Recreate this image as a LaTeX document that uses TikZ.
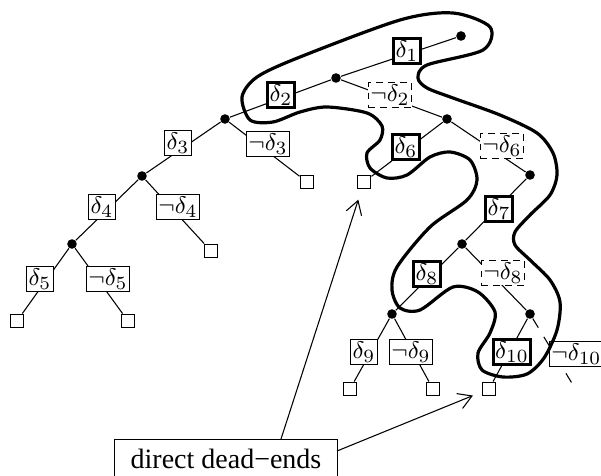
\documentclass[tikz,border=0pt]{standalone}
\usepackage[no-math]{fontspec}
\newfontfamily\timesfont{Liberation Serif}
\usetikzlibrary{arrows.meta}

\begin{document}
\begin{tikzpicture}[x=0.375pt,y=-0.375pt,
        dot/.style={circle,fill=black,inner sep=0pt,minimum size=3.6pt},
        deadend/.style={draw,inner sep=0pt,minimum size=5.2pt},
        cond/.style={draw,fill=white,inner sep=0.7pt,font=\fontsize{9.5}{11}\selectfont},
        chosen/.style={cond,line width=1.1pt},
        pending/.style={cond,dash pattern=on 2.5pt off 2pt},
        >={Straight Barb[length=5pt,width=6pt]}]
        \useasboundingbox (0,0) rectangle (601,476);

        % choice points of the search
        \foreach \n/\x/\y in {n1/461/36,n2/336/78,n3/225/119,n4/447/119,n5/142/176,%
                              n7/530/175,n8/72/244,n9/462/244,n10/392/314,n11/530/314} {
          \node[dot] (\n) at (\x,\y) {};
        };

        % leaves where the search gets stuck
        \foreach \n/\x/\y in {da/307/182,db/364/182,dc/211/251,dd/17/321,de/128/321,%
                              df/350/389,dg/433/389,dh/489/389} {
          \node[deadend] (\n) at (\x,\y) {};
        };
        \coordinate (end10) at (573,385);

        % the branches
        \foreach \a/\b in {n1/n2,n2/n3,n2/n4,n3/n5,n3/da,n4/db,n4/n7,n5/n8,n5/dc,%
                           n8/dd,n8/de,n7/n9,n9/n10,n9/n11,n10/df,n10/dg,n11/dh} {
          \draw (\a) -- (\b);
        };
        \draw[dash pattern=on 4pt off 4pt] (n11) -- (end10);

        % conditions on the branches
        \node[chosen]  (l1)   at (407, 51) {$\delta_1$};
        \node[chosen]  (l2)   at (281, 95) {$\delta_2$};
        \node[pending] (l2n)  at (390, 95) {$\neg\delta_2$};
        \node[cond]    (l3)   at (178,143) {$\delta_3$};
        \node[cond]    (l3n)  at (268,144) {$\neg\delta_3$};
        \node[chosen]  (l6)   at (406,147) {$\delta_6$};
        \node[pending] (l6n)  at (502,146) {$\neg\delta_6$};
        \node[cond]    (l4)   at (102,207) {$\delta_4$};
        \node[cond]    (l4n)  at (178,207) {$\neg\delta_4$};
        \node[cond]    (l5)   at ( 40,279) {$\delta_5$};
        \node[cond]    (l5n)  at (108,279) {$\neg\delta_5$};
        \node[chosen]  (l7)   at (499,209) {$\delta_7$};
        \node[chosen]  (l8)   at (427,274) {$\delta_8$};
        \node[pending] (l8n)  at (503,273) {$\neg\delta_8$};
        \node[cond]    (l9)   at (364,352) {$\delta_9$};
        \node[cond]    (l9n)  at (411,352) {$\neg\delta_9$};
        \node[chosen]  (l10)  at (512,352) {$\delta_{10}$};
        \node[cond,anchor=west] (l10n) at (549,354) {$\neg\delta_{10}$};

        % the path followed by the search
        \draw[line width=1.2pt] plot[smooth cycle] coordinates {
          (453,13) (490,27) (483,50) (427,65) (418,78) (427,88) (453,98) (500,115)
          (537,133) (553,153) (557,175) (550,195) (530,215) (515,232) (515,245)
          (530,260) (550,280) (560,302) (557,330) (544,358) (527,374) (503,377)
          (482,370) (478,353) (490,333) (495,312) (478,292) (453,287) (420,310)
          (400,308) (392,290) (397,267) (430,227) (467,200) (477,180) (470,160)
          (450,152) (430,157) (407,175) (387,178) (370,168) (367,153) (380,140)
          (382,126) (367,113) (327,107) (300,112) (273,122) (250,120) (242,97)
          (257,77) (300,57) (400,20)};

        % the label and its arrows
        \node[draw,anchor=north west,minimum width=83.6pt,inner xsep=5pt,inner ysep=3.4pt,
              text depth=6pt,font=\timesfont\fontsize{10.5}{12}\selectfont]
              (dde) at (114,439) {direct dead−ends};
        \coordinate (a1) at (281,439);
        \coordinate (a2) at (337,451);
        \draw[->,shorten >=4pt] (a1) -- (db);
        \draw[->,shorten >=3.5pt] (a2) -- (dh);
\end{tikzpicture}
\end{document}
